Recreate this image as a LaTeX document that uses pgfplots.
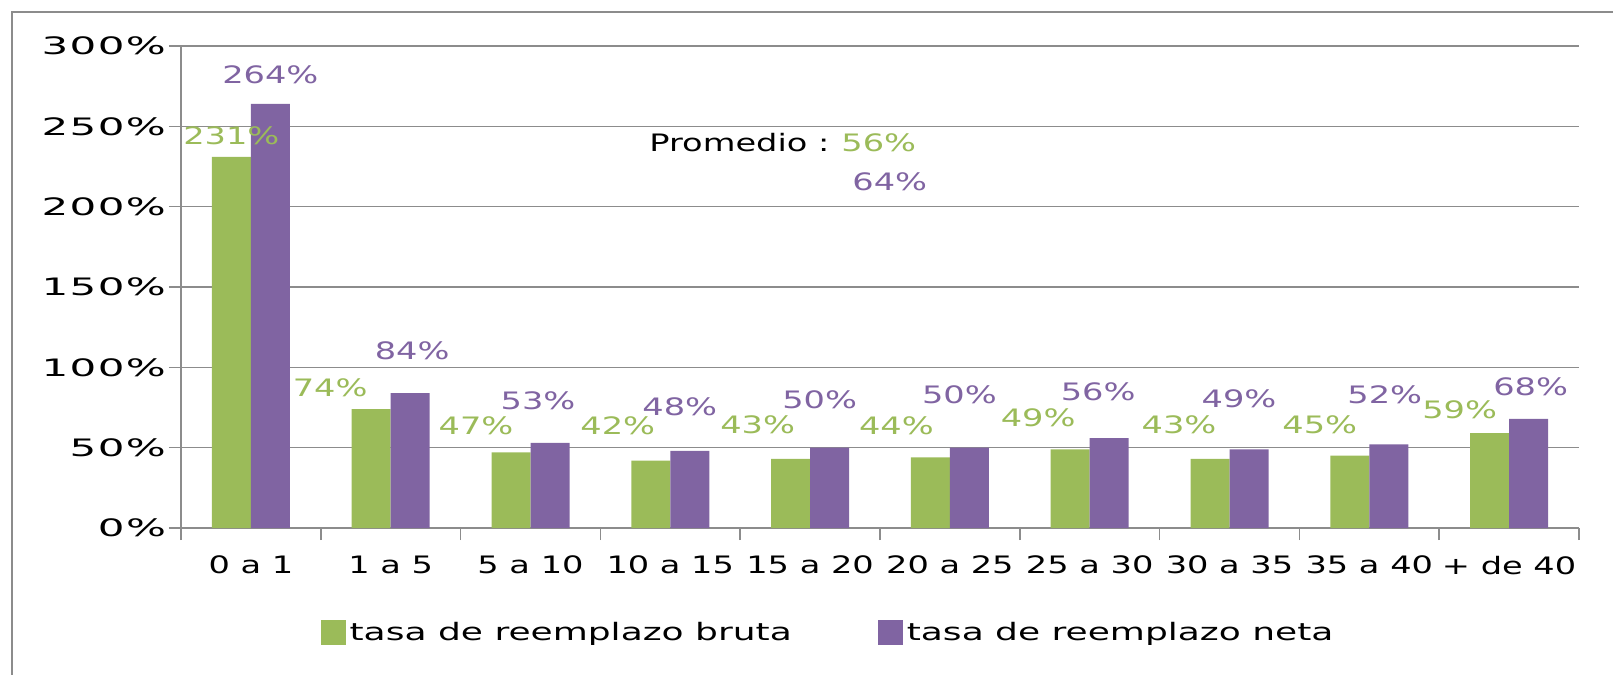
\documentclass[border=0pt]{standalone}
\usepackage{pgfplots}
\pgfplotsset{compat=1.18}
\usepackage{pgfplotstable}
\usepackage{fontspec}
\setmainfont{DejaVu Sans}[FakeStretch=1.4]
\newfontfamily\ytfont{DejaVu Sans}[FakeStretch=1.75, LetterSpace=6]
\newfontfamily\lgfont{DejaVu Sans}[FakeStretch=1.5]
\definecolor{gbar}{HTML}{9BBB59}
\definecolor{pbar}{HTML}{8064A2}
\definecolor{gridc}{HTML}{8C8C8C}

\pgfplotstableread{
x g gdx gdy p pdx pdy
0 231 0 10.5 264 0 14.5
1 74 -20.5 10.5 84 1 21
2 47 -17.5 13.5 53 -6 21
3 42 -16.5 17.5 48 -5 22
4 43 -16.5 17 50 -5 24
5 44 -17 16 50 -5 26.5
6 49 -16 16 56 -5.5 23
7 43 -15.5 17 49 -5 25.5
8 45 -15 15.5 52 -2 25
9 59 -15 11.5 68 1 16
}\data

\begin{document}
\begin{tikzpicture}[font=\fontsize{12}{14}\selectfont]
\begin{axis}[
  at={(90.5pt,-264pt)}, anchor=south west,
  scale only axis, width=699pt, height=241pt,
  xmin=-0.5, xmax=9.5, ymin=0, ymax=300,
  axis lines*=left,
  axis line style={draw=gridc, line width=0.8pt},
  ybar=0pt, bar width=19.5pt,
  ymajorgrids, grid style={draw=gridc, line width=0.8pt},
  ytick={0,50,...,300},
  yticklabels={0\%,50\%,100\%,150\%,200\%,250\%,300\%},
  yticklabel style={font=\fontsize{12}{14}\ytfont, xshift=2pt},
  xtick={-0.5,0.5,...,9.5}, xticklabels={},
  extra x ticks={0,1,...,9},
  extra x tick labels={0 a 1,1 a 5,5 a 10,10 a 15,15 a 20,20 a 25,25 a 30,30 a 35,35 a 40,+ de 40},
  extra x tick style={major tick length=0pt, xticklabel style={yshift=-10.5pt}},
  tick align=outside, major tick length=6pt,
  tick style={draw=gridc, line width=0.8pt},
  legend style={at={(0.0953,-0.218)}, anchor=west, draw=none, fill=none,
    font=\fontsize{12}{14}\lgfont,
    legend columns=2, /tikz/every even column/.append style={column sep=41pt}},
  legend image code/.code={\fill[#1] (0pt,-6pt) rectangle (12.5pt,6.5pt);},
]
\addplot[fill=gbar, draw=none,
  nodes near coords={\pgfplotspointmeta\%}, point meta=explicit symbolic,
  visualization depends on={\thisrow{gdx}\as\dx},
  visualization depends on={\thisrow{gdy}\as\dy},
  every node near coord/.append style={anchor=center, xshift=\dx pt, yshift=\dy pt, text=gbar, inner sep=0pt}]
  table[x=x, y=g, meta=g]{\data};
\addplot[fill=pbar, draw=none,
  nodes near coords={\pgfplotspointmeta\%}, point meta=explicit symbolic,
  visualization depends on={\thisrow{pdx}\as\dx},
  visualization depends on={\thisrow{pdy}\as\dy},
  every node near coord/.append style={anchor=center, xshift=\dx pt, yshift=\dy pt, text=pbar, inner sep=0pt}]
  table[x=x, y=p, meta=p]{\data};
\legend{tasa de reemplazo bruta, tasa de reemplazo neta}
\node[anchor=west, inner sep=0pt] at (axis cs:2.848,239.6) {Promedio :};
\node[anchor=west, inner sep=0pt, text=gbar] at (axis cs:4.221,239.6) {56\%};
\node[anchor=west, inner sep=0pt, text=pbar] at (axis cs:4.30,215.4) {64\%};
\end{axis}
\draw[gridc, line width=1.2pt] (6pt,-340pt) -- (6pt,-6pt) -- (810pt,-6pt);
\pgfresetboundingbox
\useasboundingbox (0,0) rectangle (806.5pt,-337.5pt);
\end{tikzpicture}
\end{document}
